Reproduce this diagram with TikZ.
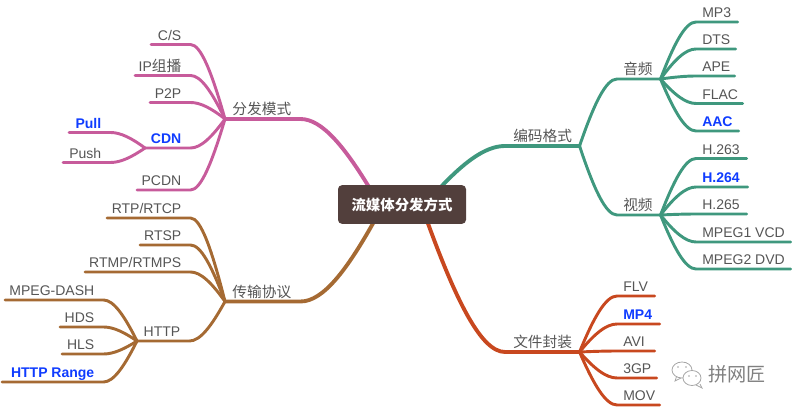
\documentclass[tikz,border=0pt]{standalone}
\usepackage{fontspec}
\setmainfont{Liberation Sans}
\newfontfamily\cjk{Noto Sans CJK SC}[Scale=1.05]
\usepackage{xcolor}
\definecolor{musepink}{HTML}{C75B9B}
\definecolor{musegreen}{HTML}{3F987E}
\definecolor{musebrown}{HTML}{A56A33}
\definecolor{museorange}{HTML}{C8481F}
\definecolor{boxbrown}{HTML}{523F3C}
\definecolor{labelgray}{HTML}{555555}
\definecolor{hotblue}{HTML}{0F3CFF}
\usetikzlibrary{calc}
\newcommand{\hotlabel}[1]{\textcolor{hotblue}{\bfseries #1}}
\tikzset{
  branch/.style={to path={let \p1=(\tikztostart),\p2=(\tikztotarget),
      \n1={\x2-\x1},\n2={\y2-\y1} in
      .. controls (\x1+0.38*\n1,\y1+0.62*\n2) and (\x2-0.3*\n1,\y2) .. (\tikztotarget)}},
  wire/.style={line width=2.2pt, line cap=round},
  trunk/.style={line width=2.9pt, line cap=round},
  tag/.style={inner ysep=3pt, inner xsep=0pt, text height=8pt, text depth=0pt,
    font=\fontsize{10.5}{12}\selectfont, text=labelgray},
  tagleft/.style={tag, anchor=south west, align=flush right,
    execute at end node={\hspace*{6.75pt}}},
  tagright/.style={tag, anchor=south west, align=flush left,
    execute at begin node={\hspace*{4.5pt}}},
  bubble/.style={draw=gray!70, line width=0.6pt, fill=white},
}
\begin{document}
\begin{tikzpicture}[x=0.75pt,y=-0.75pt]
  \useasboundingbox (0,0) rectangle (792,409);
  % Free ends behind the centre box
  \coordinate (rootpink) at (372,192);
  \coordinate (rootgreen) at (438,190);
  \coordinate (rootbrown) at (376,218);
  \coordinate (rootorange) at (426,218);
  % First level
  \node[tagleft, text width=56.25pt] (mode) at (225,119) {\cjk 分发模式};
  \node[tagleft, text width=56.25pt] (proto) at (225,301.5) {\cjk 传输协议};
  \node[tagright, text width=55.5pt] (codec) at (505,146) {\hspace*{1.5pt}\cjk 编码格式};
  \node[tagright, text width=55.5pt] (wrap) at (505,352) {\hspace*{1.5pt}\cjk 文件封装};
  \draw[trunk, musepink] (rootpink) to[branch] (mode.south east) -- (mode.south west);
  \draw[trunk, musebrown] (rootbrown) to[branch] (proto.south east) -- (proto.south west);
  \draw[trunk, musegreen] (rootgreen) to[branch] (codec.south west) -- (codec.south east);
  \draw[trunk, museorange] (rootorange) to[branch] (wrap.south west) -- (wrap.south east);
  % Second level
  \node[tagleft, text width=33.75pt] (cdn) at (145,148) {\hotlabel{CDN}};
  \node[tagleft, text width=39pt] (http) at (137,341) {HTTP};
  \node[tagright, text width=32.25pt] (audio) at (617,79) {\cjk 音频};
  \node[tagright, text width=32.25pt] (video) at (617,215) {\cjk 视频};
  \draw[wire, musepink] (mode.south west) to[branch] (cdn.south east) -- (cdn.south west);
  \draw[wire, musebrown] (proto.south west) to[branch] (http.south east) -- (http.south west);
  \draw[wire, musegreen] (codec.south east) to[branch] (audio.south west) -- (audio.south east);
  \draw[wire, musegreen] (codec.south east) to[branch] (video.south west) -- (video.south east);
  % Leaves on the left
  \foreach \nm/\hub/\col/\xl/\xr/\yy/\txt in {
    cs/mode/musepink/151/190/44.5/{C/S},
    ipm/mode/musepink/135/190/75.5/{IP{\cjk 组播}},
    ptp/mode/musepink/150/190/102.5/{P2P},
    pcdn/mode/musepink/137/190/190/{PCDN},
    pull/cdn/musepink/69/110/132.5/{\hotlabel{Pull}},
    push/cdn/musepink/63/110/162.5/{Push},
    rtp/proto/musebrown/107/190/218/{RTP/RTCP},
    rtsp/proto/musebrown/140/190/245/{RTSP},
    rtmp/proto/musebrown/85/190/272/{RTMP/RTMPS},
    dash/http/musebrown/5/103/300/{MPEG-DASH},
    hds/http/musebrown/60/103/327/{HDS},
    hls/http/musebrown/62/103/354/{HLS},
    range/http/musebrown/2/103/382/{\hotlabel{HTTP Range}}} {
    \node[tagleft, text width={(\xr-\xl)*0.75pt}] (\nm) at (\xl,\yy) {\txt};
    \draw[wire, \col] (\hub.south west) to[branch] (\nm.south east) -- (\nm.south west);
  }
  % Leaves on the right
  \foreach \nm/\hub/\col/\xl/\xr/\yy/\txt in {
    mpa/audio/musegreen/696/737/22/{MP3},
    dts/audio/musegreen/696/735/49/{DTS},
    ape/audio/musegreen/696/734/76/{APE},
    flac/audio/musegreen/696/742/103.5/{FLAC},
    aac/audio/musegreen/696/738/131/{\hotlabel{AAC}},
    hlow/video/musegreen/696/746/158.5/{H.263},
    havc/video/musegreen/696/747/187/{\hotlabel{H.264}},
    hevc/video/musegreen/696/746/214/{H.265},
    vcd/video/musegreen/696/790/242/{MPEG1 VCD},
    dvd/video/musegreen/696/790/269/{MPEG2 DVD},
    flv/wrap/museorange/617/654/296/{FLV},
    mpf/wrap/museorange/617/659/324/{\hotlabel{MP4}},
    avi/wrap/museorange/617/654/351/{AVI},
    tgp/wrap/museorange/617/656/378/{3GP},
    mov/wrap/museorange/617/659/405/{MOV}} {
    \node[tagright, text width={(\xr-\xl)*0.75pt}] (\nm) at (\xl,\yy) {\txt};
    \draw[wire, \col] (\hub.south east) to[branch] (\nm.south west) -- (\nm.south east);
  }
  % Centre box
  \node[fill=boxbrown, rounded corners=3pt, minimum width=96pt, minimum height=29pt,
    text=white, font=\cjk\fontsize{10.3}{12}\selectfont\bfseries] (hub) at (402,204.5) {流媒体分发方式};
  % Watermark
  \draw[bubble] (677,375) -- (675,381) -- (681,378);
  \draw[bubble] (682,370) ellipse (10 and 8);
  \draw[bubble] (700,384) -- (702,388) -- (696,385);
  \draw[bubble] (692,378) ellipse (9 and 7.5);
  \foreach \dx/\dy in {678/367,686/367,689/376,696/376} {
    \fill[gray!70] (\dx,\dy) circle (0.9);
  }
  \node[text=gray, font=\cjk\fontsize{13.7}{16}\selectfont] (mark) at (737,374) {拼网匠};
\end{tikzpicture}
\end{document}
